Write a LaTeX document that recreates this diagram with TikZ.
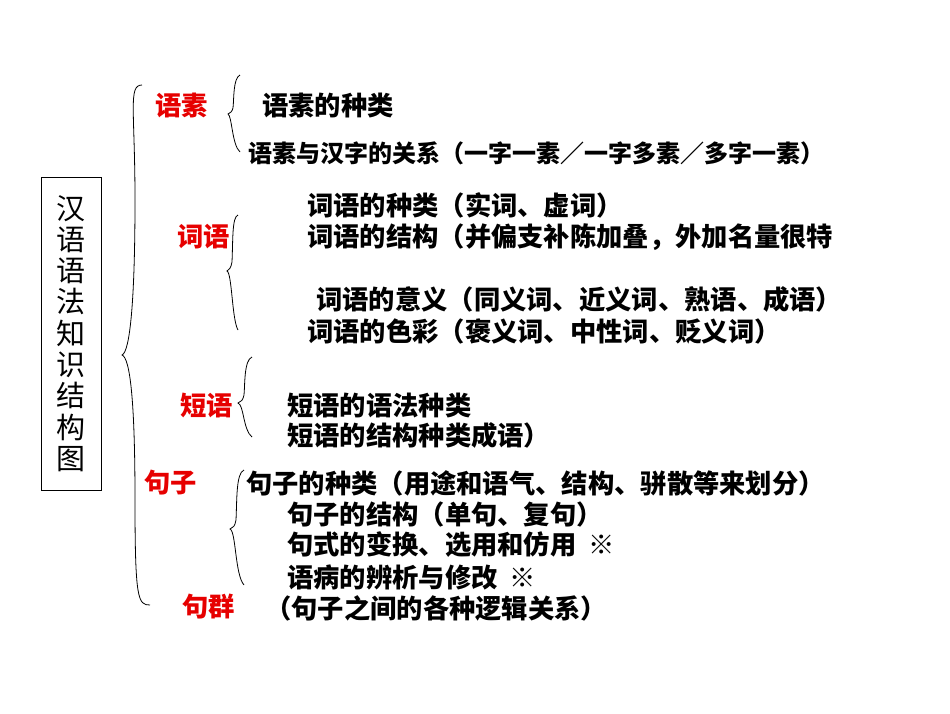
\documentclass[tikz,border=0pt]{standalone}
\usepackage{fontspec}
\newfontfamily\cjk{Noto Sans CJK SC}
\begin{document}
\begin{tikzpicture}[x=1pt,y=-1pt,
  txt/.style={anchor=west,inner sep=0pt,font=\cjk\bfseries\fontsize{26.3}{28}\selectfont},
  red/.style={txt,text={rgb,255:red,230;green,0;blue,0}},
  br/.style={draw=black,line width=0.8pt}]
\useasboundingbox (0,0) rectangle (950,713);
\node[draw,line width=0.8pt,minimum width=60pt,minimum height=313pt,inner sep=0pt,
  font=\cjk\fontsize{29}{31.3}\selectfont,align=center] (title) at (71,333.5)
  {汉\\语\\语\\法\\知\\识\\结\\构\\图};
% big brace
\draw[br] (142,85) .. controls (128,85) and (135,110) .. (135,200)
  .. controls (135,300) and (130,352) .. (122,355)
  .. controls (130,358) and (135,400) .. (135,500)
  .. controls (135,600) and (138,605) .. (150,605);
% small braces
\draw[br] (240,75) .. controls (233,78) and (234,100) .. (233,108)
  .. controls (232,112) and (230,113) .. (228,114)
  .. controls (232,116) and (232,145) .. (240,152);
\draw[br] (238,215) .. controls (232,217) and (233,240) .. (232,262)
  .. controls (231,268) and (229,270) .. (227,271)
  .. controls (232,273) and (232,320) .. (238,330);
\draw[br] (252,357) .. controls (244,360) and (245,385) .. (244,395)
  .. controls (243,400) and (241,402) .. (238,403)
  .. controls (244,405) and (243,430) .. (252,437);
\draw[br] (244,470) .. controls (236,473) and (237,500) .. (236,520)
  .. controls (235,526) and (233,528) .. (230,529)
  .. controls (236,531) and (235,575) .. (244,585);
% labels
\node[red] (l1) at (155,105) {语素};
\node[red] (l2) at (177,237) {词语};
\node[red] (l3) at (180,405) {短语};
\node[red] (l4) at (144,483) {句子};
\node[red] (l5) at (182,607) {句群};
% items
\node[txt] (a1) at (262,105) {语素的种类};
\node[txt,font=\cjk\bfseries\fontsize{24}{26}\selectfont] (a2) at (248,153) {语素与汉字的关系（一字一素／一字多素／多字一素）};
\node[txt] (b1) at (307,205) {词语的种类（实词、虚词）};
\node[txt] (b2) at (307,237) {词语的结构（并偏支补陈加叠，外加名量很特};
\node[txt] (b3) at (316,299) {词语的意义（同义词、近义词、熟语、成语）};
\node[txt] (b4) at (307,331) {词语的色彩（褒义词、中性词、贬义词）};
\node[txt] (c1) at (287,405) {短语的语法种类};
\node[txt] (c2) at (287,435) {短语的结构种类成语）};
\node[txt] (d1) at (246,483) {句子的种类（用途和语气、结构、骈散等来划分）};
\node[txt] (d2) at (287,514) {句子的结构（单句、复句）};
\node[txt] (d3) at (287,545) {句式的变换、选用和仿用\ \ ※};
\node[txt] (d4) at (287,577) {语病的辨析与修改\ \ ※};
\node[txt] (e1) at (265,608) {（句子之间的各种逻辑关系）};
\end{tikzpicture}
\end{document}
